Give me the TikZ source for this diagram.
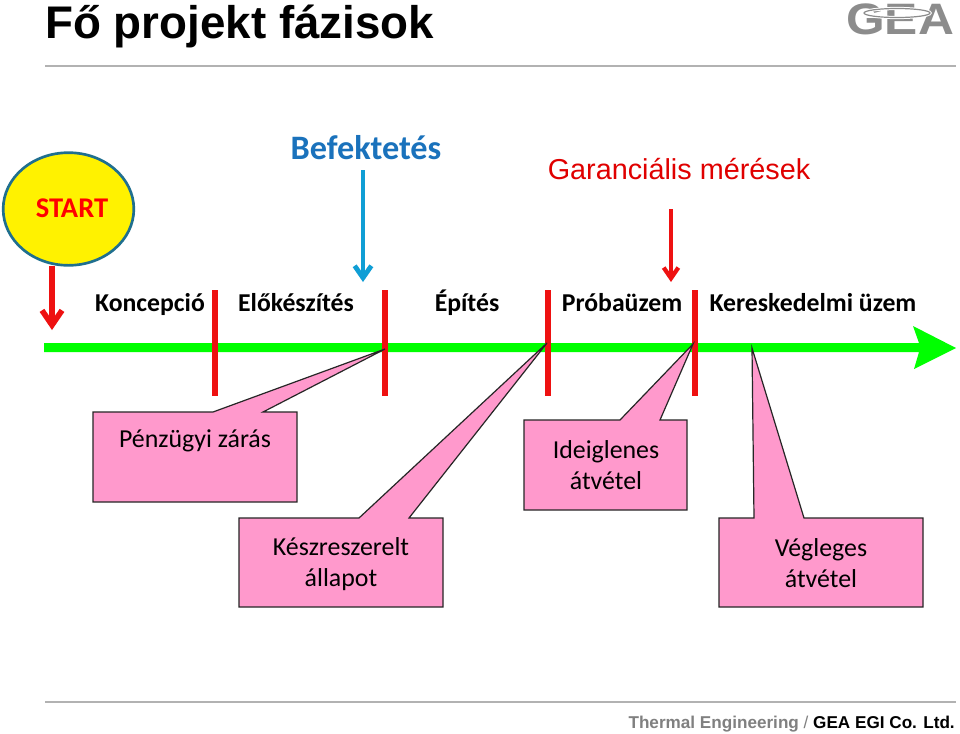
\documentclass[tikz,border=0pt]{standalone}
\usepackage{fontspec}
\setmainfont{Carlito}
\newfontfamily\arialf{Liberation Sans}
\definecolor{pinkbox}{HTML}{FF99CC}
\definecolor{gblue}{HTML}{0F9ED5}
\definecolor{tblue}{HTML}{1A72BC}
\definecolor{ringb}{HTML}{1F6F8F}
\definecolor{redm}{HTML}{EE1111}
\definecolor{ggray}{HTML}{8C8C8C}
\usetikzlibrary{arrows.meta,shapes.geometric}
\tikzset{
  x=0.75pt,y=-0.75pt,
  lbl/.style={inner sep=0pt,font=\bfseries\fontsize{19.3}{19.3}\selectfont,text=black},
  boxlbl/.style={inner sep=0pt,align=center,font=\fontsize{19.4}{23.3}\selectfont,text=black},
  callout/.style={draw=black!85,line width=0.9pt,fill=pinkbox,line join=miter},
  tick/.style={draw=redm,line width=4pt},
  rule/.style={draw=black!30,line width=0.8pt}
}
\begin{document}
\begin{tikzpicture}
\useasboundingbox (0,0) rectangle (960,733);
\fill[white] (0,0) rectangle (960,733);
% title and rules
\node[anchor=base west,inner sep=0pt,font=\arialf\bfseries\fontsize{34.3}{34.3}\selectfont] (title) at (45,38) {Fő projekt fázisok};
\draw[rule] (45,66) -- (956,66);
\draw[rule] (45,702) -- (956,702);
\node[anchor=base east,inner sep=0pt,font=\arialf\bfseries\fontsize{12.85}{13}\selectfont] (foot) at (955,728) {\textcolor{black!50}{Thermal Engineering }\textcolor{black!50}{\mdseries/} GEA EGI Co. Ltd.};
% logo
\node[anchor=base west,inner sep=0pt,xscale=1.13,font=\arialf\bfseries\fontsize{33}{33}\selectfont,text=ggray] (logo) at (846,34) {GEA};
\draw[white,line width=2.4pt] (897,13) ellipse [x radius=33,y radius=4.5];
\draw[ggray,line width=0.9pt] (897,13) ellipse [x radius=33,y radius=4.5];
% start
\node[ellipse,draw=ringb,line width=2pt,fill=yellow,minimum width=98pt,minimum height=84.5pt,inner sep=0pt] (start) at (68.5,209) {};
\node[inner sep=0pt,font=\bfseries\fontsize{21.4}{21}\selectfont,text=red] (starttxt) at (72,208) {START};
\coordinate (a1s) at (52,266); \coordinate (a1e) at (52,330);
\draw[redm,line width=4.2pt,-{Straight Barb[length=11pt,width=15pt,line width=4.2pt]}] (a1s) -- (a1e);
% heads
\node[inner sep=0pt,anchor=base,font=\bfseries\fontsize{25.7}{24}\selectfont,text=tblue] (bef) at (366,159) {Befektetés};
\node[anchor=base,inner sep=0pt,font=\arialf\fontsize{21.6}{21}\selectfont,text=red!88!black] (gar) at (679,179) {Garanciális mérések};
\coordinate (a2s) at (363,170); \coordinate (a2e) at (363,282);
\draw[gblue,line width=3.6pt,-{Straight Barb[length=9pt,width=12.5pt,line width=3.6pt]}] (a2s) -- (a2e);
\coordinate (a3s) at (671,209); \coordinate (a3e) at (671,282);
\draw[redm,line width=3.2pt,-{Straight Barb[length=8pt,width=11pt,line width=3.2pt]}] (a3s) -- (a3e);
% phase labels
\node[lbl,anchor=base] (p1) at (150,311) {Koncepció};
\node[lbl,anchor=base] (p2) at (296,311) {Előkészítés};
\node[lbl,anchor=base] (p3) at (467,311) {Építés};
\node[lbl,anchor=base] (p4) at (622,311) {Próbaüzem};
\node[lbl,anchor=base] (p5) at (813,311) {Kereskedelmi üzem};
% timeline
\fill[green] (44,343) -- (919,343) -- (913,326) -- (956,348) -- (914,369) -- (919,352) -- (44,352) -- cycle;
\foreach \xx in {215,385,548,695} \draw[tick] (\xx,290) -- (\xx,396);
% callouts
\draw[callout] (93,412) -- (213,412) -- (385,349) -- (263,412) -- (297,412) -- (297,502) -- (93,502) -- cycle;
\node[boxlbl] (c1) at (195,441) {Pénzügyi zárás};
\draw[callout] (239,518) -- (359,518) -- (547,343) -- (409,518) -- (443,518) -- (443,607) -- (239,607) -- cycle;
\node[boxlbl] (c2) at (341,564) {Készreszerelt\\állapot};
\draw[callout] (524,420) -- (620,420) -- (693,344) -- (660,420) -- (687,420) -- (687,510) -- (524,510) -- cycle;
\node[boxlbl] (c3) at (606,465) {Ideiglenes\\átvétel};
\draw[callout] (719,518) -- (754,518) -- (752,348) -- (804,518) -- (923,518) -- (923,607) -- (719,607) -- cycle;
\node[boxlbl] (c4) at (821,563) {Végleges\\átvétel};
\end{tikzpicture}
\end{document}
